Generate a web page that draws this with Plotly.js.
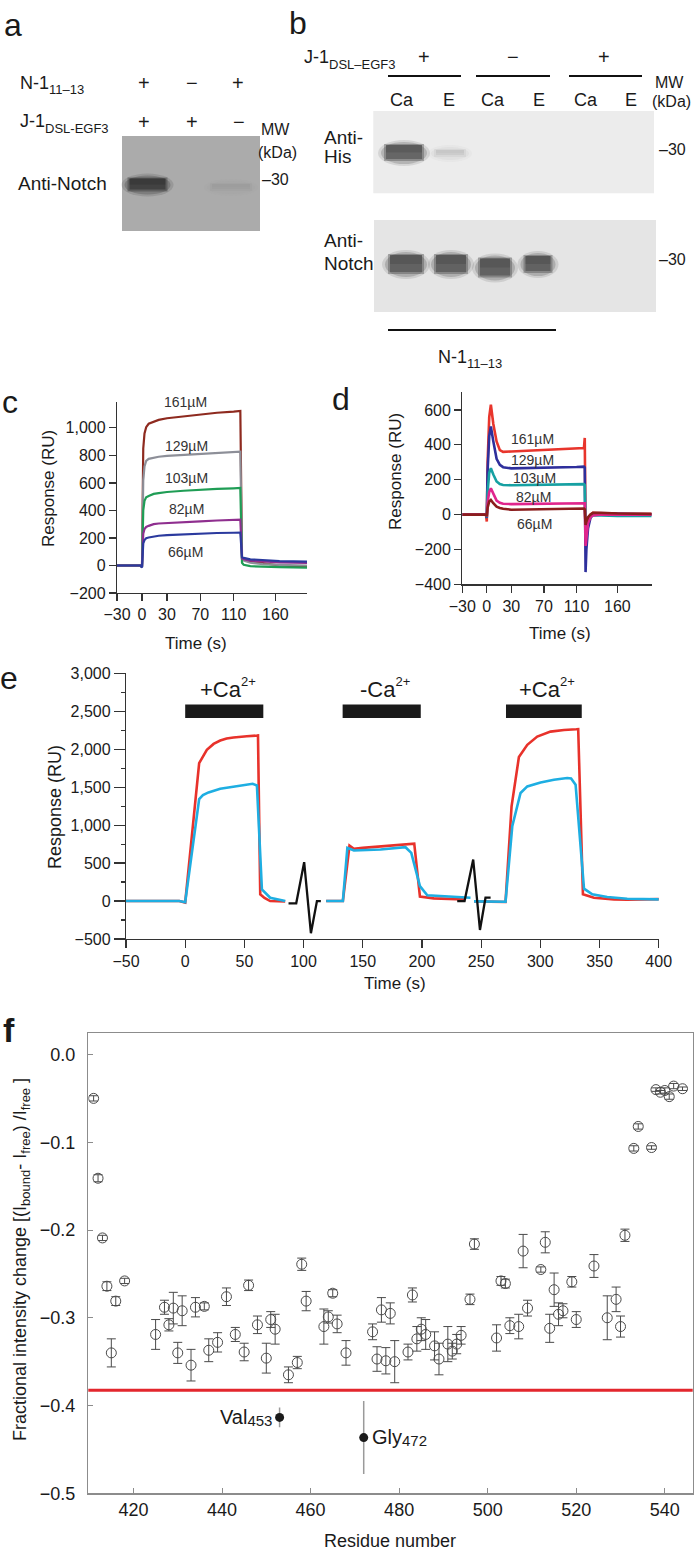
<!DOCTYPE html>
<html><head><meta charset="utf-8">
<script src="https://cdn.plot.ly/plotly-3.0.1.min.js"></script>
<style>html,body{margin:0;padding:0;background:#fff}#fig{width:694px;height:1552px}</style>
</head><body><div id="fig"></div>
<script>
// ---------------- DATA ----------------
// panel c : SPR sensorgrams (Response, RU) vs time (s)
const cTime = [-30, -2, 0, 0.5, 1.5, 3, 5, 8, 14, 20, 30, 50, 70, 90, 110, 118, 120, 122, 130, 145, 165, 198];
const c161 = [0, 0, -10, 400, 850, 960, 1005, 1030, 1046, 1058, 1070, 1085, 1099, 1110, 1118, 1123, 60, 45, 30, 15, 0, -10];
const c129 = [0, 0, -10, 300, 620, 720, 760, 775, 785, 790, 797, 805, 812, 818, 825, 828, 50, 35, 20, 10, 5, 0];
const c103 = [0, 0, -10, 200, 400, 470, 495, 505, 520, 526, 534, 543, 551, 557, 561, 563, 20, 5, -5, -10, -12, -15];
const c82  = [0, 0, -10, 120, 230, 265, 280, 288, 300, 305, 309, 315, 321, 327, 331, 333, 50, 45, 35, 28, 22, 18];
const c66  = [0, 0, -15, 80, 160, 185, 198, 203, 212, 216, 220, 226, 232, 236, 238, 239, 60, 55, 45, 38, 32, 28];
const concLabels = ['161µM', '129µM', '103µM', '82µM', '66µM'];
const timeTicks = [-30, 0, 30, 70, 110, 160];

// panel d
const dTime = [-30, -1, 0, 1, 3, 5, 8, 12, 16, 20, 30, 50, 70, 90, 110, 119, 120, 121, 122, 124, 127, 130, 140, 160, 202];
const d161 = [0, 0, -40, 300, 560, 630, 520, 420, 370, 360, 362, 366, 370, 374, 378, 382, 440, -100, -60, -20, 0, 10, 8, 5, 3];
const d129 = [0, 0, -20, 250, 450, 505, 420, 320, 285, 272, 265, 266, 268, 270, 273, 275, 270, -330, -200, -80, -20, 5, 8, 5, 2];
const d103 = [0, 0, -15, 130, 240, 266, 230, 190, 175, 170, 168, 169, 171, 172, 174, 175, 170, -130, -90, -40, -15, -5, -5, -8, -8];
const d82  = [0, 0, -10, 70, 130, 151, 120, 80, 68, 62, 60, 62, 64, 66, 68, 69, 65, -180, -120, -50, -15, -5, 0, 0, 0];
const d66  = [0, 0, -10, 40, 75, 84, 65, 45, 38, 33, 28, 29, 31, 33, 34, 35, 30, -60, -40, -15, 0, 10, 10, 6, 4];

// panel e
const eRedT  = [-50, -5, 0, 11.8, 18.3, 24, 29.6, 35, 40.8, 46, 52.1, 60.6, 61.5, 63.4, 67, 71.8, 84.5, null,
                119, 131, 133.2, 138.8, 142.5, 150, 165, 180, 191.8, 193.5, 198.3, 210, 235.5, null,
                244, 265, 270.6, 275.7, 281.9, 289, 297.4, 308.6, 320, 330.4, 332, 336, 345.3, 362.2, 373.4, 401];
const eRed   = [0, 0, -20, 1817, 1992, 2070, 2114, 2140, 2154, 2165, 2171, 2180, 2182, 88, 40, 0, -5, null,
                0, -5, 0, 731, 688, 700, 722, 738, 753, 755, 58, 35, 22, null,
                -5, -10, -13, 1247, 1896, 2058, 2167, 2232, 2254, 2263, 2265, 88, 44, 22, 18, 26];
const eCyanT = [-50, -5, 0, 11.8, 15, 19.7, 29.6, 40.8, 53.5, 57, 60.6, 64.8, 71.8, 84.5, null,
                119.1, 131, 133.2, 137, 142.5, 165, 186.1, 191, 198.3, 204.5, 221.4, 241, null,
                244, 260, 270.6, 276.3, 283.3, 289, 300.2, 311.5, 322.7, 326, 329.8, 336.9, 343.9, 356.5, 373.4, 401];
const eCyan  = [0, 0, -15, 1344, 1395, 1431, 1480, 1510, 1541, 1545, 1523, 154, 44, 0, null,
                0, -5, 0, 700, 665, 679, 709, 635, 197, 75, 62, 44, null,
                -5, -5, -10, 985, 1423, 1510, 1562, 1598, 1620, 1615, 1532, 163, 88, 53, 31, 22];
const eBlackT = [87.3, 93.8, 100.5, 106.2, 111.3, 114.6, null, 229.8, 236, 243.3, 249, 253.7, 258];
const eBlack  = [-30, -30, 512, -424, 0, 0, null, 0, 0, 547, -381, 44, 44];
const injStart = [0, 133, 271];
const injEnd   = [66, 199, 335];
const injSign  = ['+Ca', '-Ca', '+Ca'];

// panel f
const fRes = [411,412,413,414,415,416,418,425,427,428,429,430,431,433,434,436,437,439,441,443,
              445,446,448,450,451,452,455,457,458,459,463,464,465,466,468,474,475,476,477,478,
              479,482,483,484,485,486,488,489,491,492,493,494,496,497,502,503,504,505,507,508,
              509,512,513,514,515,516,517,519,520,524,527,529,530,531,533,534,537,538,539,540,
              541,542,544];
const fChange = [-0.050,-0.141,-0.209,-0.264,-0.340,-0.281,-0.258,-0.319,-0.288,-0.308,-0.289,-0.340,-0.292,-0.354,-0.288,-0.287,-0.337,-0.328,-0.276,-0.319,
                 -0.339,-0.263,-0.308,-0.346,-0.302,-0.313,-0.365,-0.351,-0.239,-0.281,-0.310,-0.299,-0.272,-0.307,-0.340,-0.316,-0.347,-0.291,-0.349,-0.295,
                 -0.350,-0.339,-0.274,-0.324,-0.313,-0.319,-0.332,-0.347,-0.330,-0.338,-0.330,-0.320,-0.279,-0.216,-0.323,-0.258,-0.261,-0.309,-0.310,-0.224,
                 -0.289,-0.245,-0.214,-0.312,-0.268,-0.296,-0.292,-0.259,-0.302,-0.241,-0.300,-0.279,-0.310,-0.206,-0.107,-0.082,-0.106,-0.040,-0.043,-0.041,
                 -0.048,-0.036,-0.039];
const fErr = [0.003,0.004,0.003,0.005,0.016,0.005,0.003,0.017,0.008,0.007,0.018,0.012,0.017,0.018,0.011,0.004,0.013,0.011,0.010,0.008,
              0.010,0.006,0.010,0.017,0.009,0.017,0.009,0.007,0.007,0.011,0.020,0.007,0.004,0.010,0.014,0.009,0.014,0.014,0.015,0.012,
              0.024,0.009,0.008,0.014,0.013,0.017,0.016,0.018,0.020,0.009,0.011,0.010,0.006,0.006,0.015,0.005,0.005,0.009,0.014,0.019,
              0.009,0.003,0.012,0.016,0.019,0.013,0.008,0.006,0.009,0.013,0.025,0.014,0.012,0.007,0.003,0.003,0.002,0.002,0.002,0.003,
              0.003,0.003,0.002];
const sigRes = [453, 472];
const sigChange = [-0.4135, -0.4365];
const sigErr = [0.0113, 0.0416];
const sigName = ['Val', 'Gly'];
const threshold = -0.3825;

// ---------------- LAYOUT HELPERS ----------------
const W = 694, H = 1552;
const FONT = '"Liberation Sans", Arial, Helvetica, sans-serif';
const INK = '#1a1a1a';
const X = p => p / W, Y = p => 1 - p / H;
// smaller, shifted text run (subscript: negative shift, superscript: positive)
const SH = (t, size, shift) => `<span style="font-size:${size}px;baseline-shift:${shift}px">${t}</span>`;
function A(text, x, y, o) {
  o = o || {};
  const a = {xref:'paper', yref:'paper', x:X(x), y:Y(y), text:text, showarrow:false,
    xanchor:o.xa || 'center', yanchor:o.ya || 'middle',
    font:{family:o.family || FONT, size:o.size || 18, color:o.color || INK}};
  if (o.angle !== undefined) a.textangle = o.angle;
  if (o.bold) a.font.weight = 'bold';
  return a;
}
function R(x0, y0, x1, y1, fill, op, type) {
  return {type:type || 'rect', xref:'paper', yref:'paper', x0:X(x0), x1:X(x1), y0:Y(y1), y1:Y(y0),
          fillcolor:fill, opacity:op === undefined ? 1 : op, line:{width:0}, layer:'above'};
}
function band(cx, cy, w, h, color, s) {
  s = s || 1;
  return [
    R(cx - w/2 - 4, cy - h/2 - 3, cx + w/2 + 4, cy + h/2 + 4, color, 0.12*s, 'circle'),
    R(cx - w/2 - 1, cy - h/2 - 1, cx + w/2 + 1, cy + h/2 + 2, color, 0.2*s, 'circle'),
    R(cx - w/2 + 2, cy - h/2 + 1, cx + w/2 - 2, cy + h/2 - 1, color, 0.3*s),
    R(cx - w/2 + 4, cy - h/2 + 2, cx + w/2 - 4, cy + h/2 - 3, color, 0.4*s),
    R(cx - w/2 + 4, cy - h/2 + 2, cx + w/2 - 4, cy, color, 0.2*s)
  ];
}
function L(x0, y0, x1, y1, w) {
  return {type:'line', xref:'paper', yref:'paper', x0:X(x0), x1:X(x1), y0:Y(y0), y1:Y(y1),
          line:{color:'#111', width:w || 2}};
}

// ---------------- TRACES ----------------
const traces = [];
const cCols = ['#8e2a1f', '#8d8f98', '#1f9d55', '#8f2f8f', '#2b3a9e'];
[c161, c129, c103, c82, c66].forEach((s, i) => traces.push({
  x:cTime, y:s, mode:'lines', line:{color:cCols[i], width:2.2}, xaxis:'x', yaxis:'y', hoverinfo:'skip'}));
const dCols = ['#e8352c', '#2e2f9c', '#16a0a2', '#e0258c', '#8b1d1d'];
[d161, d129, d103, d82, d66].forEach((s, i) => traces.push({
  x:dTime, y:s, mode:'lines', line:{color:dCols[i], width:2.6}, xaxis:'x2', yaxis:'y2', hoverinfo:'skip'}));
traces.push({x:eRedT, y:eRed, mode:'lines', line:{color:'#e8322b', width:2.6}, xaxis:'x3', yaxis:'y3', connectgaps:false, hoverinfo:'skip'});
traces.push({x:eCyanT, y:eCyan, mode:'lines', line:{color:'#1eaee2', width:2.6}, xaxis:'x3', yaxis:'y3', connectgaps:false, hoverinfo:'skip'});
traces.push({x:eBlackT, y:eBlack, mode:'lines', line:{color:'#111', width:2.3}, xaxis:'x3', yaxis:'y3', connectgaps:false, hoverinfo:'skip'});
traces.push({x:fRes, y:fChange, mode:'markers', xaxis:'x4', yaxis:'y4', hoverinfo:'skip',
  marker:{symbol:'circle-open', size:10, color:'#4a4a4a', line:{width:1, color:'#4a4a4a'}},
  error_y:{type:'data', array:fErr, visible:true, color:'#4a4a4a', thickness:1, width:4.5}});
traces.push({x:sigRes, y:sigChange, mode:'markers', xaxis:'x4', yaxis:'y4', hoverinfo:'skip',
  marker:{symbol:'circle', size:9, color:'#1a1a1a'},
  error_y:{type:'data', array:sigErr, visible:true, color:'#9a9a9a', thickness:1.5, width:0}});

// ---------------- AXES ----------------
const axBase = {showgrid:false, zeroline:false, showline:true, linecolor:'#333', linewidth:1.2,
  ticks:'outside', tickcolor:'#333', tickwidth:1.2, tickfont:{family:FONT, size:16, color:INK}};
const layout = {
  width:W, height:H, margin:{l:0, r:0, t:0, b:0}, showlegend:false,
  paper_bgcolor:'#fff', plot_bgcolor:'rgba(0,0,0,0)', font:{family:FONT, color:INK},
  xaxis:Object.assign({}, axBase, {domain:[X(117), X(307)], range:[-30, 198], anchor:'y',
    tickmode:'array', tickvals:timeTicks, ticklen:7}),
  yaxis:Object.assign({}, axBase, {domain:[Y(593), Y(402)], range:[-200, 1188], anchor:'x',
    tickmode:'array', tickvals:[-200, 0, 200, 400, 600, 800, 1000], tickformat:',', ticklen:7}),
  xaxis2:Object.assign({}, axBase, {domain:[X(462.3), X(651.7)], range:[-30, 202], anchor:'y2',
    tickmode:'array', tickvals:timeTicks, ticklen:7}),
  yaxis2:Object.assign({}, axBase, {domain:[Y(584.3), Y(391.7)], range:[-400, 705], anchor:'x2',
    tickmode:'array', tickvals:[-400, -200, 0, 200, 400, 600], ticklen:7}),
  xaxis3:Object.assign({}, axBase, {domain:[X(126), X(658.7)], range:[-50, 400], anchor:'y3',
    tickmode:'array', tickvals:[-50, 0, 50, 100, 150, 200, 250, 300, 350, 400], ticklen:8}),
  yaxis3:Object.assign({}, axBase, {domain:[Y(939), Y(673.3)], range:[-500, 3000], anchor:'x3',
    tickmode:'array', tickvals:[-500, 0, 500, 1000, 1500, 2000, 2500, 3000], tickformat:',', ticklen:11,
    minor:{tickmode:'linear', tick0:-250, dtick:500, ticklen:4, tickcolor:'#333', ticks:'outside'}}),
  xaxis4:{domain:[X(88.3), X(692.7)], range:[409.8, 546.3], anchor:'y4', showgrid:false, zeroline:false,
    showline:true, mirror:true, linecolor:'#8c8c8c', linewidth:1.3, ticks:'inside', ticklen:5, tickcolor:'#8c8c8c',
    tickmode:'array', tickvals:[420, 440, 460, 480, 500, 520, 540], tickfont:{family:FONT, size:18, color:INK}},
  yaxis4:{domain:[Y(1493.3), Y(1033)], range:[-0.5, 0.0245], anchor:'x4', showgrid:false, zeroline:false,
    showline:true, mirror:true, linecolor:'#8c8c8c', linewidth:1.3, ticks:'inside', ticklen:5, tickcolor:'#8c8c8c',
    tickmode:'array', tickvals:[-0.5, -0.4, -0.3, -0.2, -0.1, 0], tickformat:'.1f', ticklabelstandoff:8,
    tickfont:{family:FONT, size:18, color:INK}},
  shapes:[], annotations:[]
};

const sh = layout.shapes, an = layout.annotations;

// ---------------- PANEL a ----------------
an.push(A('a', 13, 25, {size:32}));
an.push(A('N-1' + SH('11–13', 13, -5), 18, 85, {xa:'left'}));
an.push(A('+', 144, 83, {size:20}), A('−', 192, 83, {size:20}), A('+', 238, 83, {size:20}));
an.push(A('J-1' + SH('DSL-EGF3', 13, -6), 18, 124, {xa:'left'}));
an.push(A('+', 144, 122, {size:20}), A('+', 192, 122, {size:20}), A('−', 239, 122, {size:20}));
an.push(A('MW', 259, 129, {xa:'left', size:16}), A('(kDa)', 256, 153, {xa:'left', size:16}));
an.push(A('–30', 260, 179, {xa:'left', size:16}));
an.push(A('Anti-Notch', 16, 183, {xa:'left', size:19}));
sh.push(R(122, 136, 260, 231, '#ababab'));
sh.push(...band(147.5, 184.5, 44, 16, '#202020', 1.1));
sh.push(...band(231, 187, 46, 10, '#808080', 0.3));

// ---------------- PANEL b ----------------
an.push(A('b', 298, 23, {size:32}));
an.push(A('J-1' + SH('DSL–EGF3', 13, -6), 302, 60, {xa:'left'}));
an.push(A('+', 424, 57, {size:20}), A('−', 513, 57, {size:20}), A('+', 604, 57, {size:20}));
sh.push(L(388, 76, 461, 76), L(476, 76, 550, 76), L(569, 76, 642, 76));
[['Ca', 402], ['E', 449], ['Ca', 493], ['E', 539], ['Ca', 586], ['E', 631]].forEach(t => an.push(A(t[0], t[1], 100, {size:18})));
an.push(A('MW', 669, 82, {size:16}), A('(kDa)', 671, 102, {size:16}));
an.push(A('Anti-', 322, 137, {xa:'left', size:19}), A('His', 322, 157, {xa:'left', size:19}));
an.push(A('–30', 657, 149, {xa:'left', size:16}));
sh.push(R(373.3, 111, 654, 193.3, '#ececec'));
sh.push(...band(404, 152.5, 44, 19, '#303030', 1));
sh.push(...band(450, 153, 36, 10, '#9a9a9a', 0.45));
an.push(A('Anti-', 322, 240, {xa:'left', size:19}), A('Notch', 322, 263, {xa:'left', size:19}));
an.push(A('–30', 657, 260, {xa:'left', size:16}));
sh.push(R(374, 220, 656, 312, '#e5e5e5'));
sh.push(...band(406, 264, 40, 22, '#2c2c2c', 1));
sh.push(...band(451, 264, 38, 22, '#2c2c2c', 1));
sh.push(...band(495, 267.5, 38, 22, '#2c2c2c', 1));
sh.push(...band(538, 264, 33, 20, '#2c2c2c', 1));
sh.push(L(388, 330, 556, 330));
an.push(A('N-1' + SH('11–13', 13, -5), 436, 359, {xa:'left'}));

// ---------------- PANEL c ----------------
an.push(A('c', 10, 402, {size:32}));
an.push(A('Response (RU)', 48, 489, {angle:-90, size:17}));
an.push(A('Time (s)', 196, 643, {size:17}));
const cLabPos = [[51.6, 1186], [53.7, 870], [53.7, 635], [53.7, 411], [51.6, 96]];
concLabels.forEach((t, i) => an.push({xref:'x', yref:'y', x:cLabPos[i][0], y:cLabPos[i][1], text:t, showarrow:false,
  font:{family:FONT, size:14, color:'#333'}}));

// ---------------- PANEL d ----------------
an.push(A('d', 341, 399, {size:32}));
an.push(A('Response (RU)', 395, 472, {angle:-90, size:17}));
an.push(A('Time (s)', 560, 633, {size:17}));
const dLabPos = [[56, 434], [56, 314], [58, 209], [57, 103], [59, -53]];
concLabels.forEach((t, i) => an.push({xref:'x2', yref:'y2', x:dLabPos[i][0], y:dLabPos[i][1], text:t, showarrow:false,
  font:{family:FONT, size:14, color:'#333'}}));

// ---------------- PANEL e ----------------
an.push(A('e', 9, 678, {size:32}));
an.push(A('Response (RU)', 55, 807, {angle:-90, size:18}));
an.push(A('Time (s)', 395, 983, {size:17}));
injStart.forEach((s, i) => {
  sh.push({type:'rect', xref:'x3', yref:'y3', x0:s, x1:injEnd[i], y0:2410, y1:2590,
           fillcolor:'#1a1a1a', line:{width:0}});
  an.push({xref:'x3', yref:'y3', x:(s + injEnd[i]) / 2 + 3, y:2800, text:injSign[i] + SH('2+', 13, 11), showarrow:false,
           font:{family:FONT, size:22, color:INK}});
});

// ---------------- PANEL f ----------------
an.push(A('f', 9, 1030, {size:34, bold:true}));
an.push(A('Fractional intensity change [(I' + SH('bound', 13, -4) + '- I' + SH('free', 13, -4) +
          ') /I' + SH('free', 13, -4) + ' ]', 21, 1260, {angle:-90, size:18}));
an.push(A('Residue number', 390, 1541, {size:18}));
sh.push({type:'line', xref:'x4 domain', yref:'y4', x0:0, x1:1, y0:threshold, y1:threshold,
         line:{color:'#e3262d', width:3}});
sigRes.forEach((r, i) => an.push({xref:'x4', yref:'y4', x:r, y:sigChange[i], text:sigName[i] + SH(String(r), 15, -2),
  showarrow:false, xanchor:i === 0 ? 'right' : 'left', xshift:i === 0 ? -6 : 6, yanchor:'middle',
  font:{family:FONT, size:20, color:INK}}));

Plotly.newPlot('fig', traces, layout, {staticPlot:true, displayModeBar:false});
</script>
</body></html>
